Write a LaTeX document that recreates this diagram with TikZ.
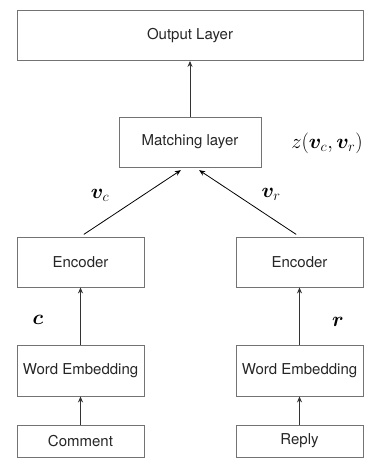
\documentclass[tikz,border=0pt]{standalone}
\usepackage{amsmath,bm}
\usepackage{fontspec}
\setmainfont{TeX Gyre Heros}
\usetikzlibrary{arrows.meta}
\begin{document}
\begin{tikzpicture}[x=1pt,y=1pt,
  box/.style={draw=black!55, line width=0.8pt, inner sep=0pt, font=\fontsize{15}{18}\selectfont, text=black!85},
  arr/.style={-{Stealth[length=6pt,width=5pt]}, line width=1pt, draw=black!80},
  darr/.style={-{Stealth[length=6pt,width=5pt]}, line width=0.8pt, draw=black, shorten <=4pt, shorten >=5pt},
  lab/.style={font=\fontsize{22}{26}\selectfont}]
\useasboundingbox (0,0) rectangle (371,-459);
\node[box, minimum width=346pt, minimum height=50pt] (out) at (190,-35.5) {Output Layer};
\node[box, minimum width=142pt, minimum height=50pt] (match) at (190,-142) {Matching layer};
\node[box, minimum width=127pt, minimum height=50pt] (encL) at (80.5,-262) {Encoder};
\node[box, minimum width=127pt, minimum height=50pt] (encR) at (299.5,-262) {Encoder};
\node[box, minimum width=127pt, minimum height=51pt] (weL) at (80.5,-370.5) {Word Embedding};
\node[box, minimum width=127pt, minimum height=51pt] (weR) at (299.5,-370.5) {Word Embedding};
\node[box, minimum width=127pt, minimum height=32pt] (comL) at (80.5,-441) {Comment};
\node[box, minimum width=127pt, minimum height=32pt] (comR) at (299.5,-441) {Reply};
\coordinate (mL) at ([xshift=-5pt]match.south);
\coordinate (mR) at ([xshift=5pt]match.south);
\draw[arr] (match) -- (out);
\draw[darr] (encL.north) -- (mL);
\draw[darr] (encR.north) -- (mR);
\draw[arr] (weL) -- (encL);
\draw[arr] (weR) -- (encR);
\draw[arr] (comL) -- (weL);
\draw[arr] (comR) -- (weR);
\node[lab] (vc) at (100,-195) {$\bm{v}_c$};
\node[lab] (vr) at (271,-194) {$\bm{v}_r$};
\node[lab] (c) at (38,-320) {$\bm{c}$};
\node[lab] (r) at (338,-322) {$\bm{r}$};
\node[lab] (z) at (327,-143) {$z(\bm{v}_c,\bm{v}_r)$};
\end{tikzpicture}
\end{document}
